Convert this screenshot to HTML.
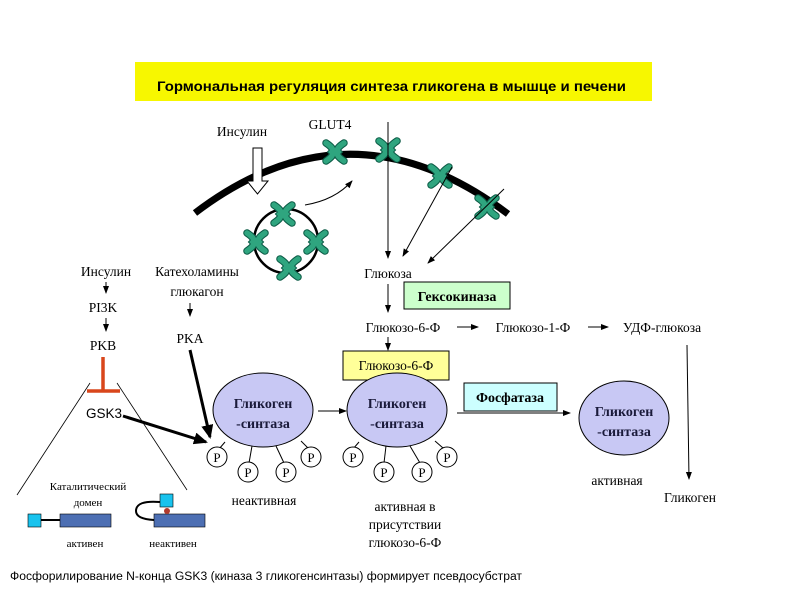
<!DOCTYPE html>
<html><head><meta charset="utf-8"><style>body{margin:0;background:#fff}svg{display:block}text{font-family:"Liberation Serif","DejaVu Serif",serif}.s{font-family:"Liberation Sans","DejaVu Sans",sans-serif}</style></head><body>
<svg width="800" height="600" viewBox="0 0 800 600" xmlns="http://www.w3.org/2000/svg">
<defs>
<marker id="a" markerWidth="8" markerHeight="8" refX="7" refY="4" orient="auto" markerUnits="userSpaceOnUse"><path d="M0,1 L8,4 L0,7z" fill="#000"/></marker>
<marker id="b" markerWidth="14" markerHeight="12" refX="12" refY="6" orient="auto" markerUnits="userSpaceOnUse"><path d="M0,0 L14,6 L0,12z" fill="#000"/></marker>
<g id="g"><path d="M-9,-9 Q0,-3 -3,0 Q0,3 -9,9 M9,-9 Q0,-3 3,0 Q0,3 9,9" fill="none" stroke="#0b5a45" stroke-width="7.5" stroke-linecap="round"/><path d="M-9,-9 Q0,-3 -3,0 Q0,3 -9,9 M9,-9 Q0,-3 3,0 Q0,3 9,9" fill="none" stroke="#2fa57f" stroke-width="5.5" stroke-linecap="round"/></g>
</defs>
<rect x="135" y="62" width="517" height="39" fill="#f7f700"/>
<text class="s" x="157" y="91" font-weight="bold" font-size="14" textLength="469" lengthAdjust="spacingAndGlyphs">Гормональная регуляция синтеза гликогена в мышце и печени</text>
<path d="M195,213 Q350,95 508,214" fill="none" stroke="#000" stroke-width="7"/>
<use href="#g" x="335" y="152"/><use href="#g" x="388" y="150"/><use href="#g" x="440" y="176"/><use href="#g" x="487" y="207"/>
<circle cx="286" cy="241" r="32" fill="none" stroke="#000" stroke-width="2.5"/>
<use href="#g" x="283" y="214"/><use href="#g" x="256" y="242"/><use href="#g" x="316" y="242"/><use href="#g" x="289" y="268"/>
<g font-size="13.5" text-anchor="middle">
<text x="242" y="136">Инсулин</text><text x="330" y="129">GLUT4</text>
<text x="388" y="278">Глюкоза</text>
<text x="106" y="276">Инсулин</text><text x="103" y="312">PI3K</text><text x="103" y="350">PKB</text>
<text x="104" y="418" class="s">GSK3</text>
<text x="197" y="276">Катехоламины</text><text x="197" y="296">глюкагон</text><text x="190" y="343">PKA</text>
<text x="403" y="332">Глюкозо-6-Ф</text><text x="533" y="332">Глюкозо-1-Ф</text><text x="662" y="332">УДФ-глюкоза</text>
<text x="264" y="505">неактивная</text>
<text x="405" y="511">активная в</text><text x="405" y="529">присутствии</text><text x="405" y="547">глюкозо-6-Ф</text>
<text x="617" y="485">активная</text><text x="690" y="502">Гликоген</text>
</g>
<path d="M253,148 h9 v33 h6 l-10.5,13 l-10.5,-13 h6z" fill="#fff" stroke="#000"/>
<path d="M305,205 Q335,200 352,181" fill="none" stroke="#000" marker-end="url(#a)"/>
<g stroke="#000" fill="none" marker-end="url(#a)">
<line x1="388" y1="122" x2="388" y2="258"/><line x1="452" y1="167" x2="403" y2="256"/><line x1="504" y1="189" x2="428" y2="263"/>
<line x1="388" y1="284" x2="388" y2="312"/><line x1="388" y1="337" x2="388" y2="350"/>
<line x1="457" y1="327" x2="478" y2="327"/><line x1="588" y1="327" x2="608" y2="327"/>
<line x1="687" y1="345" x2="689" y2="479"/>
<line x1="106" y1="282" x2="106" y2="293"/><line x1="106" y1="318" x2="106" y2="331"/>
<line x1="190" y1="303" x2="190" y2="316"/>
<line x1="318" y1="411" x2="346" y2="411"/><line x1="457" y1="413" x2="570" y2="413"/>
</g>
<line x1="190" y1="350" x2="210" y2="437" stroke="#000" stroke-width="3" marker-end="url(#b)"/>
<line x1="123" y1="416" x2="206" y2="442" stroke="#000" stroke-width="3" marker-end="url(#b)"/>
<path d="M103,357 V391 M87,391 H120" stroke="#d9461b" stroke-width="3.5" fill="none"/>
<line x1="90" y1="383" x2="17" y2="495" stroke="#000" stroke-width="0.8"/>
<line x1="117" y1="383" x2="187" y2="490" stroke="#000" stroke-width="0.8"/>
<rect x="404" y="282" width="106" height="27" fill="#ccffcc" stroke="#000"/>
<text x="457" y="301" font-weight="bold" font-size="14" text-anchor="middle">Гексокиназа</text>
<rect x="343" y="351" width="106" height="29" fill="#ffff99" stroke="#000"/>
<text x="396" y="370" font-size="13.5" text-anchor="middle">Глюкозо-6-Ф</text>
<rect x="464" y="383" width="93" height="28" fill="#ccffff" stroke="#000"/>
<text x="510" y="402" font-weight="bold" font-size="14" text-anchor="middle">Фосфатаза</text>
<g fill="#c8c8f4" stroke="#000">
<ellipse cx="263" cy="410" rx="50" ry="37"/><ellipse cx="397" cy="410" rx="50" ry="37"/><ellipse cx="624" cy="418" rx="45" ry="37"/>
</g>
<g font-weight="bold" font-size="14" text-anchor="middle" fill="#1a1a3a">
<text x="263" y="408">Гликоген</text><text x="263" y="428">-синтаза</text>
<text x="397" y="408">Гликоген</text><text x="397" y="428">-синтаза</text>
<text x="624" y="416">Гликоген</text><text x="624" y="436">-синтаза</text>
</g>
<g stroke="#000" fill="#fff">
<line x1="225" y1="442" x2="219" y2="449"/><line x1="252" y1="446" x2="249" y2="463"/><line x1="276" y1="446" x2="284" y2="463"/><line x1="301" y1="441" x2="308" y2="448"/>
<line x1="359" y1="442" x2="353" y2="449"/><line x1="386" y1="446" x2="384" y2="463"/><line x1="410" y1="446" x2="420" y2="463"/><line x1="435" y1="441" x2="443" y2="448"/>
<circle cx="217" cy="457" r="10"/><circle cx="248" cy="472" r="10"/><circle cx="286" cy="472" r="10"/><circle cx="311" cy="457" r="10"/>
<circle cx="353" cy="457" r="10"/><circle cx="384" cy="472" r="10"/><circle cx="422" cy="472" r="10"/><circle cx="447" cy="457" r="10"/>
</g>
<g font-size="13" text-anchor="middle">
<text x="217" y="462">P</text><text x="248" y="477">P</text><text x="286" y="477">P</text><text x="311" y="462">P</text>
<text x="353" y="462">P</text><text x="384" y="477">P</text><text x="422" y="477">P</text><text x="447" y="462">P</text>
</g>
<g font-size="11" text-anchor="middle">
<text x="88" y="490">Каталитический</text><text x="88" y="506">домен</text>
<text x="85" y="547">активен</text><text x="173" y="547">неактивен</text>
</g>
<rect x="28" y="514" width="13" height="13" fill="#19c3ee" stroke="#000" stroke-width="0.6"/>
<line x1="41" y1="520" x2="60" y2="520" stroke="#000" stroke-width="2"/>
<rect x="60" y="514" width="51" height="13" fill="#4d6fb3" stroke="#000" stroke-width="0.6"/>
<rect x="154" y="514" width="51" height="13" fill="#4d6fb3" stroke="#000" stroke-width="0.6"/>
<path d="M160,502 Q136,500 136,511 Q136,519 154,520" fill="none" stroke="#000" stroke-width="2"/>
<rect x="160" y="494" width="13" height="13" fill="#19c3ee" stroke="#000" stroke-width="0.6"/>
<circle cx="167" cy="511" r="3" fill="#b03a2e"/>
<text class="s" x="10" y="580" font-size="11.5" textLength="512" lengthAdjust="spacingAndGlyphs">Фосфорилирование N-конца GSK3 (киназа 3 гликогенсинтазы) формирует псевдосубстрат</text>
</svg>
</body></html>
